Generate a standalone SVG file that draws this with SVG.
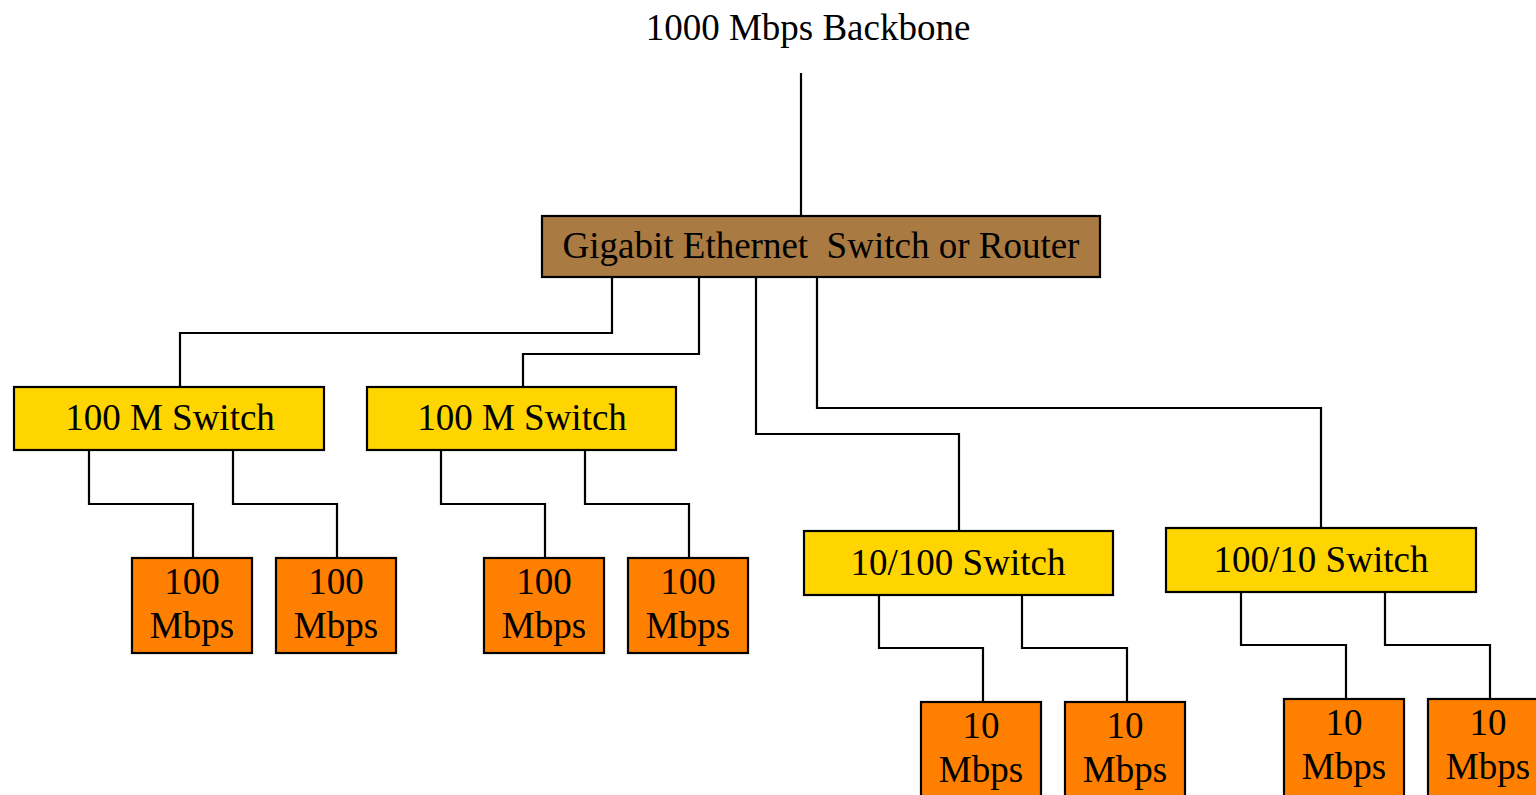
<svg xmlns="http://www.w3.org/2000/svg" width="1536" height="795" viewBox="0 0 1536 795">
<style>
text{font-family:"Liberation Serif","Times New Roman",serif;font-size:37px;fill:#000;text-anchor:middle}
.box{stroke:#000;stroke-width:2.2}
.gig{fill:#A97A41}
.sw{fill:#FFD500}
.leaf{fill:#FF7F00}
.wire{fill:none;stroke:#000;stroke-width:2.2}
</style>
<rect width="1536" height="795" fill="#fff"/>
<text id="backbone-label" x="808" y="40">1000 Mbps Backbone</text>
<g id="connectors">
<path class="wire" d="M801 73V216"/>
<path class="wire" d="M612 277V333H180V387"/>
<path class="wire" d="M699 277V354H523V387"/>
<path class="wire" d="M756 277V434H959V534"/>
<path class="wire" d="M817 277V408H1321V528"/>
<path class="wire" d="M89 450V504H193V558"/>
<path class="wire" d="M233 450V504H337V558"/>
<path class="wire" d="M441 450V504H545V558"/>
<path class="wire" d="M585 450V504H689V558"/>
<path class="wire" d="M879 595V648H983V702"/>
<path class="wire" d="M1022 595V648H1127V702"/>
<path class="wire" d="M1241 592V645H1346V699"/>
<path class="wire" d="M1385 592V645H1490V699"/>
</g>
<g id="gigabit"><rect class="box gig" x="542" y="216" width="558" height="61"/><text x="821" y="258" xml:space="preserve">Gigabit Ethernet  Switch or Router</text></g>
<g id="sw1"><rect class="box sw" x="14" y="387" width="310" height="63"/><text x="170" y="430">100 M Switch</text></g>
<g id="sw2"><rect class="box sw" x="367" y="387" width="309" height="63"/><text x="522" y="430">100 M Switch</text></g>
<g id="sw3"><rect class="box sw" x="804" y="531" width="309" height="64"/><text x="958" y="575">10/100 Switch</text></g>
<g id="sw4"><rect class="box sw" x="1166" y="528" width="310" height="64"/><text x="1321" y="572">100/10 Switch</text></g>
<g id="leaf1"><rect class="box leaf" x="132" y="558" width="120" height="95"/><text x="192" y="594">100</text><text x="192" y="638">Mbps</text></g>
<g id="leaf2"><rect class="box leaf" x="276" y="558" width="120" height="95"/><text x="336" y="594">100</text><text x="336" y="638">Mbps</text></g>
<g id="leaf3"><rect class="box leaf" x="484" y="558" width="120" height="95"/><text x="544" y="594">100</text><text x="544" y="638">Mbps</text></g>
<g id="leaf4"><rect class="box leaf" x="628" y="558" width="120" height="95"/><text x="688" y="594">100</text><text x="688" y="638">Mbps</text></g>
<g id="leaf5"><rect class="box leaf" x="921" y="702" width="120" height="100"/><text x="981" y="738">10</text><text x="981" y="782">Mbps</text></g>
<g id="leaf6"><rect class="box leaf" x="1065" y="702" width="120" height="100"/><text x="1125" y="738">10</text><text x="1125" y="782">Mbps</text></g>
<g id="leaf7"><rect class="box leaf" x="1284" y="699" width="120" height="100"/><text x="1344" y="735">10</text><text x="1344" y="779">Mbps</text></g>
<g id="leaf8"><rect class="box leaf" x="1428" y="699" width="120" height="100"/><text x="1488" y="735">10</text><text x="1488" y="779">Mbps</text></g>
</svg>
